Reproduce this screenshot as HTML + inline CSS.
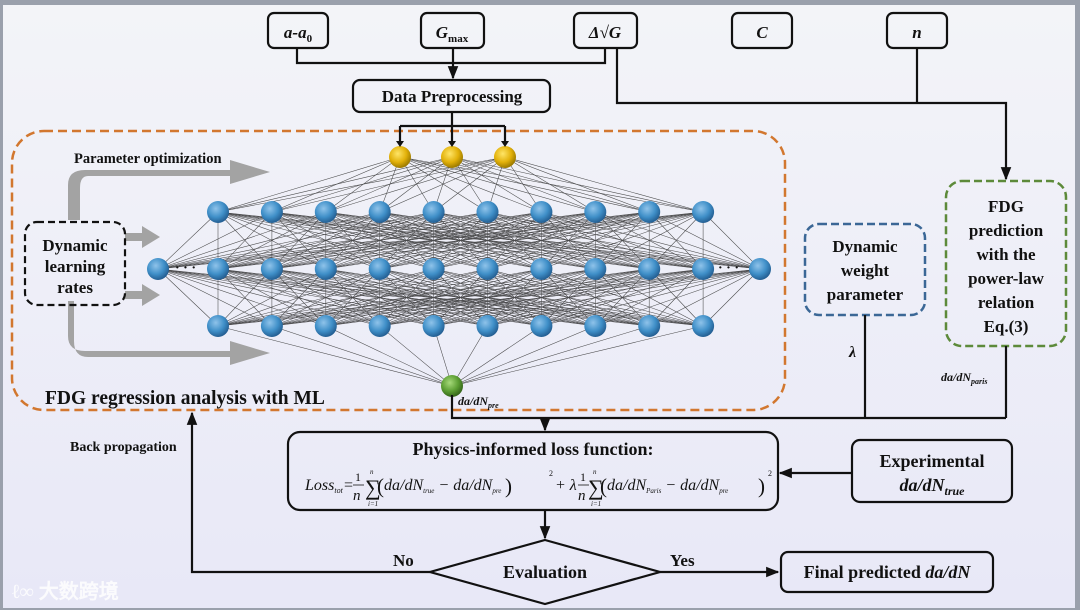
<!DOCTYPE html>
<html><head><meta charset="utf-8"><style>
html,body{margin:0;padding:0;width:1080px;height:610px;overflow:hidden;background:#9aa0ac}
svg{display:block}
text{font-family:"Liberation Serif",serif;font-weight:bold;fill:#111}
text.n{font-weight:normal;font-style:italic}
</style></head><body>
<svg id="s" width="1080" height="610" viewBox="0 0 1080 610" xmlns="http://www.w3.org/2000/svg">
<defs>
<linearGradient id="bg" x1="0" y1="0" x2="0" y2="1"><stop offset="0" stop-color="#f3f4f8"/><stop offset="1" stop-color="#e8e8f7"/></linearGradient>
<radialGradient id="bl" cx="0.4" cy="0.35" r="0.65"><stop offset="0" stop-color="#8fc3ea"/><stop offset="0.6" stop-color="#3f8fc8"/><stop offset="1" stop-color="#245f93"/></radialGradient>
<radialGradient id="ye" cx="0.4" cy="0.35" r="0.65"><stop offset="0" stop-color="#ffe567"/><stop offset="0.6" stop-color="#e2b10a"/><stop offset="1" stop-color="#9c7a00"/></radialGradient>
<radialGradient id="gr" cx="0.4" cy="0.35" r="0.65"><stop offset="0" stop-color="#a6d97a"/><stop offset="0.6" stop-color="#5c9e33"/><stop offset="1" stop-color="#35661a"/></radialGradient>
<marker id="ar" viewBox="0 0 10 10" refX="9" refY="5" markerWidth="6" markerHeight="6" orient="auto-start-reverse"><path d="M0,1 L10,5 L0,9 z" fill="#111"/></marker>
</defs>
<rect x="3" y="5" width="1072" height="603" fill="url(#bg)"/>
<g id="net" stroke="#222" stroke-width="0.55" opacity="0.8"></g>
<g fill="#a3a3a3" stroke="none">
<path d="M68,220 V185 Q68,170 85,170 H230 V160 L270,172 L230,184 V176 H88 Q80,176 80,188 V220 z"/>
<path d="M68,305 V340 Q68,355 85,355 H230 V345 L270,357 L230,369 V361 H88 Q74,361 74,345 V305 z" transform="translate(0,-4)"/>
<path d="M125,233 H142 V226 L160,237 L142,248 V241 H125 z"/>
<path d="M125,291 H142 V284 L160,295 L142,306 V299 H125 z"/>
</g>
<text x="74" y="163" font-size="14.5">Parameter optimization</text>
<rect x="12" y="131" width="773" height="279" rx="32" fill="none" stroke="#d2772f" stroke-width="2.5" stroke-dasharray="9,5"/>
<rect x="25" y="222" width="100" height="83" rx="12" fill="none" stroke="#111" stroke-width="2.2" stroke-dasharray="7,4"/>
<text x="75" y="251" font-size="17" text-anchor="middle">Dynamic</text>
<text x="75" y="272" font-size="17" text-anchor="middle">learning</text>
<text x="75" y="293" font-size="17" text-anchor="middle">rates</text>
<text x="45" y="404" font-size="19.5">FDG regression analysis with ML</text>
<g id="nodes"></g>
<text x="175" y="272" font-size="14">· · ·</text>
<text x="718" y="272" font-size="14">· · ·</text>
<g fill="none" stroke="#111" stroke-width="2.2">
<rect x="268" y="13" width="60" height="35" rx="6"/>
<rect x="421" y="13" width="63" height="35" rx="6"/>
<rect x="574" y="13" width="63" height="35" rx="6"/>
<rect x="732" y="13" width="60" height="35" rx="6"/>
<rect x="887" y="13" width="60" height="35" rx="6"/>
<rect x="353" y="80" width="197" height="32" rx="7"/>
<path d="M297,48 V63 H605 V48"/>
<path d="M453,48 V78" marker-end="url(#ar)"/>
<path d="M617,48 V103 H1006 V179" marker-end="url(#ar)"/>
<path d="M917,48 V103"/>
<path d="M452,112 V126 M400,126 H505 M400,126 V143 M452,126 V143 M505,126 V143" />
</g>
<g fill="#111"><path d="M396,141 L404,141 L400,147z M448,141 L456,141 L452,147z M501,141 L509,141 L505,147z"/></g>
<text x="298" y="38" font-size="17" text-anchor="middle" font-style="italic">a-a<tspan font-size="11" dy="4" font-style="normal">0</tspan></text>
<text x="452" y="38" font-size="17" text-anchor="middle" font-style="italic">G<tspan font-size="11" dy="4" font-style="normal">max</tspan></text>
<text x="605" y="38" font-size="17" text-anchor="middle" font-style="italic">Δ√G</text>
<text x="762" y="38" font-size="17" text-anchor="middle" font-style="italic">C</text>
<text x="917" y="38" font-size="17" text-anchor="middle" font-style="italic">n</text>
<text x="452" y="102" font-size="17" text-anchor="middle">Data Preprocessing</text>
<rect x="805" y="224" width="120" height="91" rx="14" fill="none" stroke="#3b6796" stroke-width="2.5" stroke-dasharray="8,4"/>
<text x="865" y="252" font-size="17" text-anchor="middle">Dynamic</text>
<text x="865" y="276" font-size="17" text-anchor="middle">weight</text>
<text x="865" y="300" font-size="17" text-anchor="middle">parameter</text>
<rect x="946" y="181" width="120" height="165" rx="16" fill="none" stroke="#5d8a3a" stroke-width="2.5" stroke-dasharray="8,4"/>
<text x="1006" y="212" font-size="17" text-anchor="middle">FDG</text>
<text x="1006" y="236" font-size="17" text-anchor="middle">prediction</text>
<text x="1006" y="260" font-size="17" text-anchor="middle">with the</text>
<text x="1006" y="284" font-size="17" text-anchor="middle">power-law</text>
<text x="1006" y="308" font-size="17" text-anchor="middle">relation</text>
<text x="1006" y="332" font-size="17" text-anchor="middle">Eq.(3)</text>
<text x="849" y="357" font-size="16" font-style="italic">λ</text>
<text x="941" y="381" font-size="12" font-style="italic">da/dN<tspan font-size="8" dy="3">paris</tspan></text>
<text x="458" y="405" font-size="12" font-style="italic">da/dN<tspan font-size="8" dy="3">pre</tspan></text>
<g fill="none" stroke="#111" stroke-width="2.2">
<path d="M865,315 V418 M1006,346 V418 M452,395 V418 H1006"/>
<path d="M545,418 V430" marker-end="url(#ar)"/>
<rect x="288" y="432" width="490" height="78" rx="12"/>
<rect x="852" y="440" width="160" height="62" rx="8"/>
<path d="M852,473 H780" marker-end="url(#ar)"/>
<path d="M545,510 V538" marker-end="url(#ar)"/>
<path d="M545,540 L660,572 L545,604 L430,572 z"/>
<path d="M430,572 H192 V413" marker-end="url(#ar)"/>
<path d="M660,572 H778" marker-end="url(#ar)"/>
<rect x="781" y="552" width="212" height="40" rx="7"/>
</g>
<text x="70" y="451" font-size="14">Back propagation</text>
<text x="533" y="455" font-size="18" text-anchor="middle">Physics-informed loss function:</text>
<!-- formula -->
<text class="n" x="305" y="490" font-size="16">Loss<tspan font-size="8" dy="3">tot</tspan></text>
<text class="n" x="344" y="490" font-size="16" style="font-style:normal">=</text>
<text class="n" x="355" y="481" font-size="12" style="font-style:normal">1</text>
<line x1="353" y1="485" x2="364" y2="485" stroke="#111" stroke-width="0.8"/>
<text class="n" x="353" y="500" font-size="15">n</text>
<text class="n" x="365" y="495" font-size="22" style="font-style:normal">∑</text>
<text class="n" x="370" y="474" font-size="7">n</text>
<text class="n" x="368" y="506" font-size="7">i=1</text>
<text class="n" x="377" y="493" font-size="21" style="font-style:normal">(</text>
<text class="n" x="384" y="490" font-size="16">da/dN<tspan font-size="7" dy="3">true</tspan><tspan dy="-3"> − da/dN</tspan><tspan font-size="7" dy="3">pre</tspan></text>
<text class="n" x="505" y="493" font-size="21" style="font-style:normal">)</text>
<text class="n" x="549" y="476" font-size="8" style="font-style:normal">2</text>
<text class="n" x="555" y="490" font-size="16">+ λ</text>
<text class="n" x="580" y="481" font-size="12" style="font-style:normal">1</text>
<line x1="578" y1="485" x2="589" y2="485" stroke="#111" stroke-width="0.8"/>
<text class="n" x="578" y="500" font-size="15">n</text>
<text class="n" x="588" y="495" font-size="22" style="font-style:normal">∑</text>
<text class="n" x="593" y="474" font-size="7">n</text>
<text class="n" x="591" y="506" font-size="7">i=1</text>
<text class="n" x="600" y="493" font-size="21" style="font-style:normal">(</text>
<text class="n" x="607" y="490" font-size="16">da/dN<tspan font-size="7" dy="3">Paris</tspan><tspan dy="-3"> − da/dN</tspan><tspan font-size="7" dy="3">pre</tspan></text>
<text class="n" x="758" y="493" font-size="21" style="font-style:normal">)</text>
<text class="n" x="768" y="476" font-size="8" style="font-style:normal">2</text>
<text x="932" y="467" font-size="18" text-anchor="middle">Experimental</text>
<text x="932" y="491" font-size="18" text-anchor="middle" font-style="italic">da/dN<tspan font-size="12" dy="4">true</tspan></text>
<text x="545" y="578" font-size="18" text-anchor="middle">Evaluation</text>
<text x="393" y="566" font-size="17">No</text>
<text x="670" y="566" font-size="17">Yes</text>
<text x="887" y="578" font-size="18" text-anchor="middle">Final predicted <tspan font-style="italic">da/dN</tspan></text>
<text x="12" y="598" font-size="20" style="fill:#fff;opacity:0.85" font-family="Liberation Sans, Noto Sans CJK SC, sans-serif">ℓ∞ 大数跨境</text>
</svg>
<script>
var NS="http://www.w3.org/2000/svg";
var net=document.getElementById('net'),nd=document.getElementById('nodes');
var inp=[[400,157],[452,157],[505,157]];
var xs=[];for(var i=0;i<10;i++)xs.push(218+i*53.9);
var L1=xs.map(function(x){return[x,212]});
var L2=[[158,269]].concat(xs.map(function(x){return[x,269]})).concat([[760,269]]);
var L3=xs.map(function(x){return[x,326]});
var out=[[452,386]];
function conn(A,B){A.forEach(function(a){B.forEach(function(b){var l=document.createElementNS(NS,'line');l.setAttribute('x1',a[0]);l.setAttribute('y1',a[1]);l.setAttribute('x2',b[0]);l.setAttribute('y2',b[1]);net.appendChild(l);});});}
conn(inp,L1);conn(L1,L2);conn(L2,L3);conn(L3,out);
function dots(A,f,r){A.forEach(function(a){var c=document.createElementNS(NS,'circle');c.setAttribute('cx',a[0]);c.setAttribute('cy',a[1]);c.setAttribute('r',r);c.setAttribute('fill',f);nd.appendChild(c);});}
dots(inp,'url(#ye)',11);dots(L1,'url(#bl)',11);dots(L2,'url(#bl)',11);dots(L3,'url(#bl)',11);dots(out,'url(#gr)',11);
</script>
</body></html>
